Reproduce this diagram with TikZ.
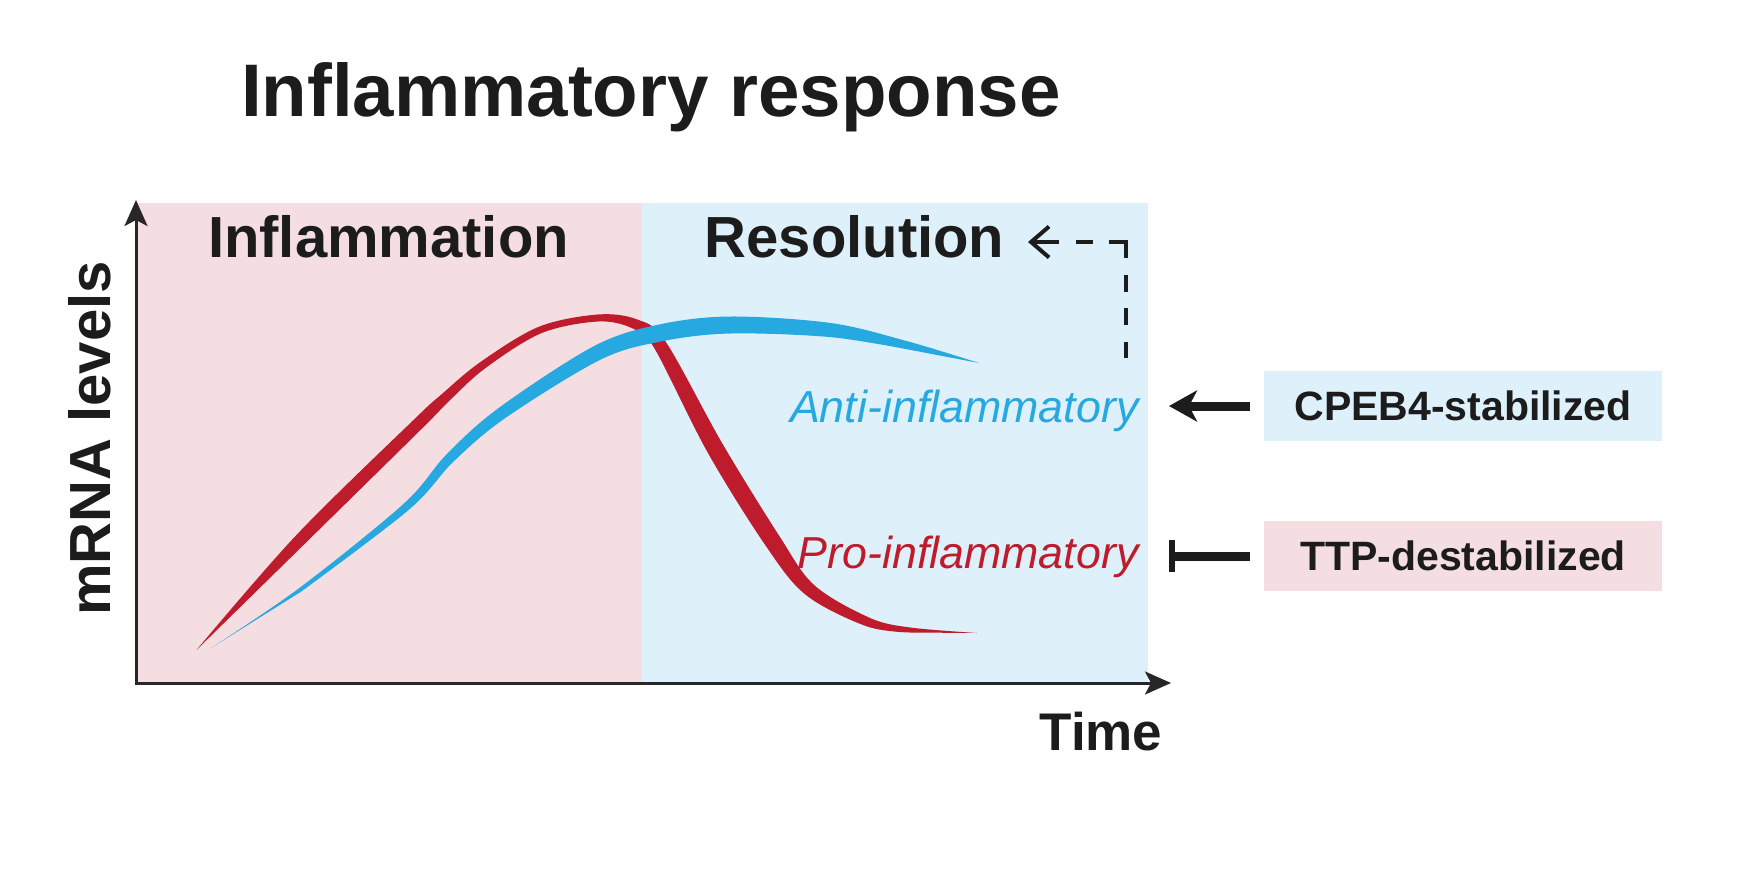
\documentclass[tikz,border=0pt]{standalone}
\usepackage{fontspec}
\setmainfont{Liberation Sans}
\usetikzlibrary{arrows.meta}
\definecolor{pinkbg}{RGB}{244,222,226}
\definecolor{bluebg}{RGB}{222,240,250}
\definecolor{redc}{RGB}{190,28,45}
\definecolor{bluec}{RGB}{38,169,225}
\definecolor{ink}{RGB}{28,28,28}
\tikzset{
  titletext/.style={font=\bfseries\fontsize{37.25pt}{40pt}\selectfont, text=ink, inner sep=0pt},
  phasetext/.style={font=\bfseries\fontsize{29pt}{32pt}\selectfont, text=ink, inner sep=0pt},
  timetext/.style={font=\bfseries\fontsize{26.5pt}{29pt}\selectfont, text=ink, inner sep=0pt},
  curvelabel/.style={font=\itshape\fontsize{22.4pt}{25pt}\selectfont, inner sep=0pt},
  regbox/.style={font=\bfseries\fontsize{20.5pt}{23pt}\selectfont, text=ink, inner sep=0pt,
                 minimum width=199pt, minimum height=35pt},
  axisline/.style={line width=1.5pt, draw=ink!95, line join=miter,
                   {Stealth[length=13pt,width=11.5pt,inset=3pt]}-{Stealth[length=13pt,width=11.5pt,inset=3pt]}},
  thickconn/.style={line width=4.5pt, draw=ink},
  fbconn/.style={line width=2pt, draw=ink, line join=miter,
     dash pattern=on 8pt off 8.5pt on 8.5pt off 8pt on 8.5pt off 8.5pt on 16.5pt off 8pt on 8.5pt off 8.5pt on 80pt off 1pt,
     -{Straight Barb[length=9pt,width=15.5pt]}}
}
\begin{document}
\begin{tikzpicture}[x=0.5pt,y=-0.5pt]
\useasboundingbox (0,0) rectangle (1746,868);
\fill[white] (0,0) rectangle (1746,868);

% phase backgrounds
\fill[pinkbg] (136,203) rectangle (642,683);
\fill[bluebg] (642,203) rectangle (1148,683);

% pro-inflammatory curve (red)
\fill[redc] plot[smooth, tension=0.55] coordinates {(196.5,650) (295.7,535.8) (413.8,419.7) (441.6,394.3) (480.7,361.8) (538.7,326.8) (597.8,314.5) (637,319.4) (665.5,341.5) (722.5,443.8) (779,535.5) (814.2,585.1) (869.7,617.8) (910.3,627.5) (977,633)}
  -- plot[smooth, tension=0.55] coordinates {(909.8,632.5) (866.3,626.2) (805.8,594.9) (765,544.7) (707.5,452.2) (654.5,348.5) (633,328.6) (598.2,321.5) (541.3,333.2) (485.3,368.2) (448.4,401.7) (422.2,428.3) (304.3,544.2)}
  -- cycle;

% anti-inflammatory curve (blue)
\fill[bluec] plot[smooth, tension=0.55] coordinates {(211,648) (298.8,588.4) (403.4,504) (446.5,454.4) (498.5,408.1) (593.6,346.3) (658.2,324.7) (730,316.5) (830.8,323) (906.9,341.1) (979,363)}
  -- plot[smooth, tension=0.55] coordinates {(905.1,348.9) (829.2,337) (730,333.5) (661.8,341.3) (600.4,359.7) (505.5,417.9) (453.5,461.6) (408.6,510) (301.2,591.6)}
  -- cycle;

% axes
\coordinate (ytip) at (136,200);
\coordinate (origin) at (136,683);
\coordinate (xtip) at (1171,683);
\draw[axisline] (ytip) -- (origin) -- (xtip);

% texts
\node[titletext, anchor=base] (title) at (651,116) {Inflammatory response};
\node[phasetext, anchor=base] (infl) at (388.5,257) {Inflammation};
\node[phasetext, anchor=base] (resol) at (854.5,257) {Resolution};
\node[phasetext, anchor=base, rotate=90] (ylab) at (110,438.5) {mRNA levels};
\node[timetext, anchor=base] (time) at (1101,750) {Time};
\node[curvelabel, text=bluec, anchor=base east] (anti) at (1139,422) {Anti-inflammatory};
\node[curvelabel, text=redc, anchor=base east] (pro) at (1139,568) {Pro-inflammatory};

% regulator boxes
\node[regbox, fill=bluebg] (cpeb) at (1463,406) {CPEB4-stabilized};
\node[regbox, fill=pinkbg] (ttp) at (1463,556) {TTP-destabilized};

% connectors
\draw[thickconn, -{Stealth[length=14pt,width=15.5pt,inset=4pt]}, shorten <=7pt, shorten >=15pt]
  (cpeb.west) -- (cpeb.west -| anti.east);
\draw[thickconn, -{Bar[width=16pt,line width=3pt]}, shorten <=7pt, shorten >=15pt]
  (ttp.west) -- (ttp.west -| pro.east);

% feedback: anti-inflammatory promotes resolution
\coordinate (fbstart) at (1126,358);
\coordinate (fbend) at (1028,242);
\draw[fbconn] (fbstart) |- (fbend);
\end{tikzpicture}
\end{document}
